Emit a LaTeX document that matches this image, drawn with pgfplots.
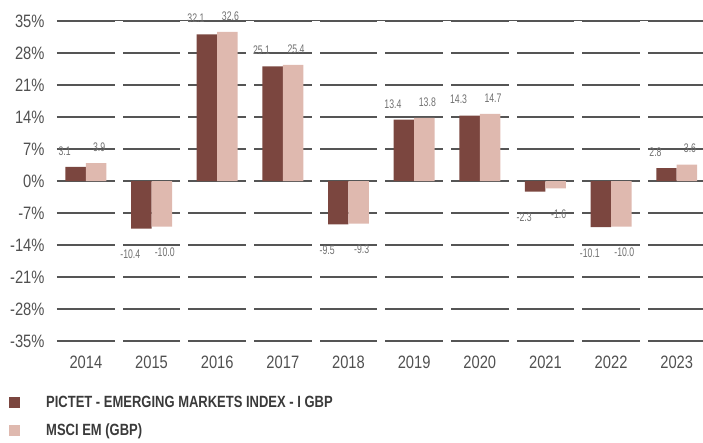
\documentclass[border=0pt]{standalone}
\usepackage{fontspec}
\setmainfont{Liberation Sans}
\newfontfamily\tickfont{Liberation Sans}[FakeStretch=0.82]
\newfontfamily\valfont{Liberation Sans}[FakeStretch=0.7]
\newfontfamily\legfont{Liberation Sans}[FakeStretch=0.8]
\usepackage{pgfplots}
\usepackage{pgfplotstable}
\pgfplotsset{compat=1.18}
\definecolor{darkbar}{HTML}{7B463F}
\definecolor{lightbar}{HTML}{DFB9AF}
\definecolor{gridgray}{HTML}{555555}
\definecolor{tickgray}{HTML}{505050}
\definecolor{valgray}{HTML}{707070}
\definecolor{leggray}{HTML}{3A3A3A}
\pgfplotsset{sq legend/.style={legend image code/.code={\fill[##1] (0bp,-5.5bp) rectangle (11bp,5.5bp);}}}
\pgfplotstableread{
x pictet msci
0 3.1 3.9
1 -10.4 -10.0
2 32.1 32.6
3 25.1 25.4
4 -9.5 -9.3
5 13.4 13.8
6 14.3 14.7
7 -2.3 -1.6
8 -10.1 -10.0
9 2.8 3.6
}\data
\begin{document}
\begin{tikzpicture}
\path[use as bounding box] (-57bp,-102bp) rectangle (646bp,341bp);
\begin{axis}[
  at={(0,0)}, anchor=south west,
  scale only axis, width=646bp, height=320bp,
  xmin=-0.44, xmax=9.4, ymin=-35, ymax=35,
  axis line style={draw=none}, tick style={draw=none},
  xtick={0,...,9},
  xticklabels={2014,2015,2016,2017,2018,2019,2020,2021,2022,2023},
  ytick={-35,-28,-21,-14,-7,0,7,14,21,28,35},
  yticklabel={\pgfmathprintnumber[assume math mode=true]{\tick}\%},
  tick label style={font=\tickfont\fontsize{18}{18}\selectfont, text=tickgray},
  x tick label style={yshift=-7bp},
  y tick label style={xshift=-9bp},
  ymajorgrids, major grid style={draw=gridgray, line width=1.4bp},
  ybar=0pt,
  visualization depends on={y \as \rawy},
  nodes near coords={\pgfmathprintnumber[fixed,fixed zerofill,precision=1,assume math mode=true]{\pgfplotspointmeta}},
  nodes near coords style={font=\valfont\fontsize{12.5}{12.5}\selectfont, text=valgray, anchor=center, yshift={(\rawy>0 ? 16 : -26)}},
  legend style={at={(axis description cs:-0.0743,-0.172)}, anchor=north west, draw=none, fill=none, inner sep=0pt,
    font=\legfont\bfseries\fontsize{16.3}{16.3}\selectfont, text=leggray, row sep=15bp,
    nodes={inner sep=0pt},
    /tikz/every odd column/.append style={column sep=26bp}},
  legend cell align=left,
]
\pgfplotsinvokeforeach{0.5,1.5,2.5,3.5,4.5,5.5,6.5,7.5,8.5}{
  \draw[white, line width=8bp] (axis cs:#1,-40) -- (axis cs:#1,40);
}
\addplot[fill=darkbar, draw=none, bar width=0.312, bar shift=-0.156, sq legend,
  nodes near coords style={xshift=-11bp}] table[x=x, y=pictet] {\data};
\addplot[fill=lightbar, draw=none, bar width=0.312, bar shift=0.156, sq legend,
  nodes near coords style={xshift=3bp}] table[x=x, y=msci] {\data};
\legend{PICTET - EMERGING MARKETS INDEX - I GBP, MSCI EM (GBP)}
\end{axis}
\end{tikzpicture}
\end{document}
